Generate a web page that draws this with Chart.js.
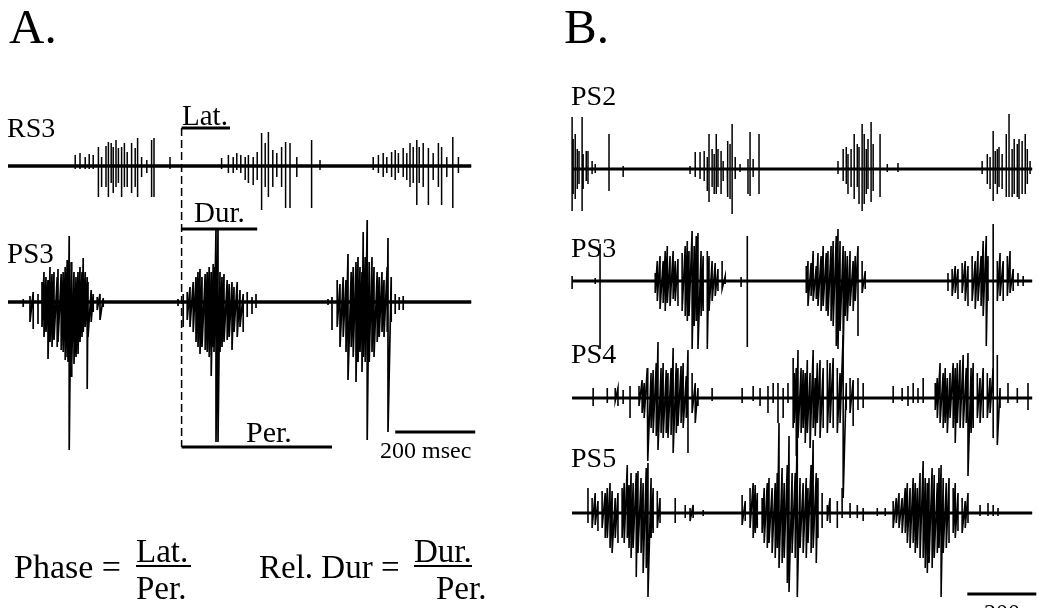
<!DOCTYPE html>
<html lang="en">
<head>
<meta charset="UTF-8">
<title>Burst timing - RS3 / PS2-PS5</title>
<script src="https://cdn.jsdelivr.net/npm/chart.js"></script>
<style>
  body { margin: 0; background: #fff; }
  #wrap { position: relative; width: 1038px; height: 608px; }
</style>
</head>
<body>
<div id="wrap"><canvas id="traces" width="1038" height="608"></canvas></div>
<script>
// spikes: [time ms, amplitude up, amplitude down]
// panel A
const rs3Spikes = [
  [168,11,3],[180,13,3],[193,9,3],[203,12,3],[213,11,3],[226,19,31],[234,9,21],[245,20,21],[251,24,31],[258,23,17],
  [263,19,27],[270,26,21],[276,18,17],[284,19,31],[291,23,21],[298,14,21],[309,23,27],[318,18,21],[324,28,31],[334,9,11],
  [347,6,7],[359,26,31],[365,28,31],[405,9,3],
  [534,8,3],[551,11,7],[563,9,7],[572,13,4],[582,11,7],[593,9,14],[601,11,17],[613,9,19],[623,14,14],[634,33,44],
  [643,23,21],[651,34,31],[662,16,21],[672,13,11],[684,19,21],[694,24,42],[705,23,42],[722,9,11],[759,26,42],[780,6,4],
  [913,9,4],[926,11,7],[938,13,11],[947,9,7],[959,14,11],[968,16,14],[976,13,7],[988,18,11],[997,13,14],[1005,23,21],
  [1013,19,17],[1022,26,39],[1028,19,17],[1038,23,21],[1051,18,39],[1063,13,14],[1076,23,21],[1084,19,39],[1097,9,11],
  [1112,29,42],[1126,9,7]
];
const ps3aSpikes = [
  [38,3,5],[55,6,20],[63,10,27],[75,8,22],[85,20,25],[90,30,35],[95,25,30],[100,22,57],[105,35,40],[110,28,45],
  [115,30,38],[123,25,45],[125,33,40],[133,28,48],[138,30,50],[143,35,58],[148,42,55],[150,35,60],[153,66,148],[158,40,75],
  [160,35,60],[165,30,62],[170,25,55],[175,30,52],[180,35,40],[185,30,35],[188,44,30],[193,30,25],[198,25,87],[200,20,35],
  [208,12,20],[213,8,10],[223,5,8],[230,8,18],[238,4,5],
  [425,3,4],[438,8,25],[448,10,18],[455,15,25],[463,20,30],[470,25,40],[475,30,45],[480,33,52],[485,25,45],[493,28,48],
  [498,30,50],[503,35,55],[508,30,74],[513,38,45],[515,35,50],[520,73,140],[525,73,140],[530,30,50],[535,25,45],[540,28,40],
  [548,22,38],[553,18,35],[560,20,48],[565,15,30],[573,20,35],[580,12,25],[588,8,30],[598,10,15],[610,5,12],[620,8,6],
  [800,3,3],[810,5,28],[823,22,25],[830,18,45],[838,25,35],[845,22,50],[850,48,78],[858,30,45],[863,35,55],[870,40,80],
  [875,45,60],[880,35,50],[885,30,70],[888,70,55],[893,45,60],[898,82,138],[903,40,60],[910,45,50],[915,35,55],[923,30,40],
  [928,25,35],[935,30,30],[940,22,35],[948,35,30],[950,64,130],[958,25,20],[968,8,12],[978,5,8],[988,6,8]
];
// panel B
const ps2Spikes = [
  [0,52,42],[3,30,25],[9,35,30],[15,20,20],[20,18,15],[29,52,42],[32,15,20],[41,18,12],[46,18,15],[58,8,5],[67,5,4],
  [107,35,22],[148,3,8],
  [342,3,5],[357,17,8],[371,17,10],[383,18,12],[392,12,22],[397,35,33],[406,20,18],[412,15,25],[418,35,25],[423,20,18],
  [432,18,25],[438,8,12],[450,25,20],[452,28,28],[458,25,30],[464,45,45],[473,12,10],[487,5,3],[510,10,25],[516,37,27],
  [525,10,8],[542,35,25],
  [771,8,5],[786,20,12],[795,22,15],[800,15,25],[809,20,18],[818,35,30],[827,25,18],[832,22,35],[841,45,42],[847,35,35],
  [853,20,25],[858,30,20],[867,47,33],[873,25,22],[893,35,28],[914,5,3],[945,6,3],
  [1189,8,5],[1204,15,15],[1212,12,20],[1221,38,32],[1227,18,15],[1233,20,25],[1238,22,18],[1247,15,20],[1259,35,28],
  [1267,55,28],[1276,20,28],[1282,30,25],[1291,25,28],[1296,30,30],[1305,28,25],[1314,35,25],[1320,20,15],[1328,8,5]
];
const ps3bSpikes = [
  [0,5,8],[67,3,3],[81,37,68],
  [241,8,12],[247,20,20],[255,25,28],[264,20,22],[270,30,30],[276,35,22],[284,25,25],[293,30,18],[299,20,20],[307,22,25],
  [319,28,30],[328,35,35],[334,40,40],[339,30,35],[348,50,68],[354,35,45],[360,45,40],[365,48,68],[374,30,35],[380,25,30],
  [392,30,68],[397,25,30],[406,20,20],[415,18,15],[423,12,10],[435,20,8],[444,5,3],[490,4,6],[508,45,66],
  [679,15,12],[684,20,25],[693,18,15],[699,30,20],[708,15,18],[713,28,25],[722,25,30],[728,35,25],[737,28,30],[742,30,35],
  [751,35,40],[757,40,45],[766,45,65],[771,52,68],[777,40,50],[786,35,70],[792,30,35],[798,25,40],[806,30,25],[815,20,30],
  [821,25,20],[829,35,55],[841,20,12],[850,10,8],
  [1090,8,10],[1102,12,15],[1111,15,12],[1119,12,18],[1131,18,12],[1140,20,20],[1148,15,25],[1160,25,20],[1169,20,28],
  [1177,30,20],[1186,25,25],[1192,40,35],[1201,45,65],[1206,25,20],[1221,57,96],[1233,20,20],[1241,28,15],[1250,20,20],
  [1262,25,15],[1270,30,12],[1279,12,10],[1293,8,5],[1308,5,5]
];
const ps4Spikes = [
  [61,10,8],[102,10,5],[125,10,3],[133,10,8],[148,8,6],[168,12,20],
  [194,12,8],[203,18,15],[209,15,20],[218,30,25],[220,20,63],[229,25,30],[235,28,35],[244,35,38],[249,56,52],[258,30,35],
  [264,35,40],[273,28,35],[278,25,40],[287,30,37],[293,50,55],[302,35,35],[307,30,28],[316,32,25],[322,35,30],[331,22,20],
  [336,48,55],[348,25,15],[357,15,25],[365,10,8],
  [406,10,3],[493,10,5],[525,12,3],[545,10,8],[568,12,15],[583,15,5],[597,15,25],[612,10,20],[626,15,5],
  [641,40,30],[644,25,25],[650,30,58],[655,48,40],[664,30,35],[670,28,30],[676,25,45],[682,38,35],[690,25,50],[699,48,30],
  [705,20,38],[711,35,25],[719,38,40],[728,30,30],[740,38,35],[748,35,25],[757,40,30],[769,30,35],[777,25,25],[786,63,100],
  [795,15,12],[806,20,15],[815,18,28],[829,20,12],[844,15,10],
  [931,12,5],[957,10,3],[974,12,8],[989,15,5],[1003,10,5],[1018,20,5],
  [1053,15,12],[1059,20,20],[1067,35,25],[1076,25,30],[1082,30,25],[1088,20,35],[1096,25,20],[1105,35,30],[1111,30,45],
  [1117,35,25],[1125,38,30],[1134,43,30],[1143,30,25],[1148,45,78],[1157,30,35],[1163,35,30],[1175,25,20],[1183,20,25],
  [1192,30,20],[1204,25,20],[1212,20,15],[1221,30,40],[1233,43,47],[1241,10,10],
  [1264,15,5],[1291,10,5],[1322,15,12]
];
const ps5Spikes = [
  [46,25,10],[58,15,15],[67,20,12],[75,12,18],[87,22,15],[96,20,25],[102,25,25],[110,30,35],[116,22,40],[125,15,25],
  [133,20,30],[145,25,25],[151,30,30],[160,48,25],[165,28,35],[171,40,45],[177,30,35],[186,40,64],[191,42,40],[200,35,40],
  [206,30,60],[215,45,55],[220,50,84],[229,35,25],[235,25,20],[247,22,15],[255,15,10],
  [299,15,10],[328,8,5],[342,5,8],[351,8,5],[380,3,3],
  [493,18,12],[502,12,8],[516,25,15],[525,30,25],[531,28,20],[537,20,15],[551,15,20],[557,25,30],[566,30,35],[571,35,30],
  [580,25,40],[589,30,45],[595,40,35],[600,90,55],[609,45,50],[615,30,45],[624,48,70],[629,77,79],[638,40,40],[647,40,45],
  [653,90,84],[661,35,35],[670,30,40],[679,35,45],[684,25,30],[693,48,40],[699,73,35],[708,40,50],[713,35,25],[725,20,15],
  [740,8,8],[748,15,10],[769,12,15],[783,25,5],
  [806,10,5],[827,8,5],[844,5,8],[885,5,3],[908,5,3],
  [931,12,15],[940,15,10],[948,20,15],[957,15,20],[966,25,20],[972,30,30],[980,25,35],[989,35,30],[995,30,40],[1001,25,35],
  [1009,40,45],[1018,52,45],[1024,35,55],[1030,30,60],[1035,35,50],[1044,45,55],[1050,38,45],[1059,30,40],[1064,45,35],
  [1070,48,84],[1076,35,40],[1085,30,35],[1093,35,30],[1105,25,20],[1111,30,25],[1119,20,18],[1131,15,20],[1140,12,15],
  [1148,20,10],
  [1183,8,3],[1206,10,3],[1221,8,3],[1235,5,3]
];

// interval markers (ms) for panel A, scale bars (ms)
const latMs = [434, 555];
const durMs = [434, 623];
const perMs = [434, 810];
const scaleBarA = [968, 1168];
const scaleBarB = [1146, 1346];
const recordLenA = 1158;
const recordLenB = 1334;

// layout: baseline level of each trace (vertical units), marker rows
const rowY = { rs3: -166, ps3a: -302, ps2: -169, ps3b: -281, ps4: -398, ps5: -513 };
const markY = { lat: -128, dur: -229, per: -447, dashTop: -128, barA: -432, barB: -594 };

// build the polyline for one trace; close spikes are joined peak to trough
function tracePoints(spikes, len, base, joinGap) {
  const pts = [{x: 0, y: base}];
  let last = 0;
  spikes.forEach(([t, up, down], i) => {
    if (i === 0 || t - last > joinGap) {
      pts.push({x: last, y: base});
      pts.push({x: t, y: base});
    }
    pts.push({x: t, y: base + up});
    pts.push({x: t, y: base - down});
    last = t;
  });
  pts.push({x: last, y: base});
  pts.push({x: len, y: base});
  return pts;
}

function line(points, axis, width, extra) {
  return Object.assign({
    data: points, xAxisID: axis, yAxisID: 'y', showLine: true,
    borderColor: '#000', borderWidth: width, pointRadius: 0, fill: false, tension: 0
  }, extra || {});
}

const datasets = [
  line([{x: 0, y: rowY.rs3}, {x: recordLenA, y: rowY.rs3}], 'xA', 3.5),
  line([{x: 0, y: rowY.ps3a}, {x: recordLenA, y: rowY.ps3a}], 'xA', 3.5),
  line(tracePoints(rs3Spikes, recordLenA, rowY.rs3, 0), 'xA', 1.5),
  line(tracePoints(ps3aSpikes, recordLenA, rowY.ps3a, 8), 'xA', 1.7),
  line([{x: latMs[0], y: markY.lat}, {x: latMs[1], y: markY.lat}], 'xA', 3),
  line([{x: durMs[0], y: markY.dur}, {x: durMs[1], y: markY.dur}], 'xA', 3),
  line([{x: perMs[0], y: markY.per}, {x: perMs[1], y: markY.per}], 'xA', 3),
  line([{x: latMs[0], y: markY.dashTop}, {x: perMs[0], y: markY.per}], 'xA', 1.5, {borderDash: [8, 4]}),
  line([{x: scaleBarA[0], y: markY.barA}, {x: scaleBarA[1], y: markY.barA}], 'xA', 3),

  line([{x: 0, y: rowY.ps2}, {x: recordLenB, y: rowY.ps2}], 'xB', 3),
  line([{x: 0, y: rowY.ps3b}, {x: recordLenB, y: rowY.ps3b}], 'xB', 3),
  line([{x: 0, y: rowY.ps4}, {x: recordLenB, y: rowY.ps4}], 'xB', 3),
  line([{x: 0, y: rowY.ps5}, {x: recordLenB, y: rowY.ps5}], 'xB', 3),
  line(tracePoints(ps2Spikes, recordLenB, rowY.ps2, 0), 'xB', 1.5),
  line(tracePoints(ps3bSpikes, recordLenB, rowY.ps3b, 10), 'xB', 1.6),
  line(tracePoints(ps4Spikes, recordLenB, rowY.ps4, 10), 'xB', 1.6),
  line(tracePoints(ps5Spikes, recordLenB, rowY.ps5, 10), 'xB', 1.6),
  line([{x: scaleBarB[0], y: markY.barB}, {x: scaleBarB[1], y: markY.barB}], 'xB', 3)
];

const serif = '"Liberation Serif", "Times New Roman", "DejaVu Serif", serif';

const textPlugin = {
  id: 'figureText',
  afterDraw(chart) {
    const ctx = chart.ctx;
    ctx.save();
    ctx.fillStyle = '#000';
    ctx.strokeStyle = '#000';
    ctx.textBaseline = 'alphabetic';
    const put = (s, x, y, size) => { ctx.font = size + 'px ' + serif; ctx.fillText(s, x, y); };
    const bar = (x1, x2, y) => { ctx.lineWidth = 2; ctx.beginPath(); ctx.moveTo(x1, y); ctx.lineTo(x2, y); ctx.stroke(); };

    put('A.', 9, 43, 49);
    put('B.', 564, 43, 49);

    put('RS3', 7, 137, 28);
    put('PS3', 7, 263, 29);
    put('Lat.', 182, 125, 29);
    put('Dur.', 194, 222, 29);
    put('Per.', 246, 442, 30);
    put('200 msec', 380, 458, 24);

    put('PS2', 571, 105, 28);
    put('PS3', 571, 257, 28);
    put('PS4', 571, 363, 28);
    put('PS5', 571, 467, 28);
    put('200 msec', 984, 620, 24);

    put('Phase =', 14, 578, 34);
    put('Lat.', 136, 562, 33);
    bar(136, 191, 566);
    put('Per.', 136, 599, 33);
    put('Rel. Dur =', 259, 578, 33);
    put('Dur.', 414, 562, 33);
    bar(414, 472, 566);
    put('Per.', 436, 599, 33);
    ctx.restore();
  }
};

new Chart(document.getElementById('traces'), {
  type: 'scatter',
  data: { datasets: datasets },
  options: {
    responsive: false,
    devicePixelRatio: 1,
    animation: false,
    events: [],
    layout: { padding: 0 },
    plugins: { legend: { display: false }, tooltip: { enabled: false } },
    scales: {
      xA: { type: 'linear', axis: 'x', display: false, min: -20, max: 2575 },
      xB: { type: 'linear', axis: 'x', display: false, min: -1659, max: 1351 },
      y: { type: 'linear', display: false, min: -608, max: 0 }
    }
  },
  plugins: [textPlugin]
});
</script>
</body>
</html>
